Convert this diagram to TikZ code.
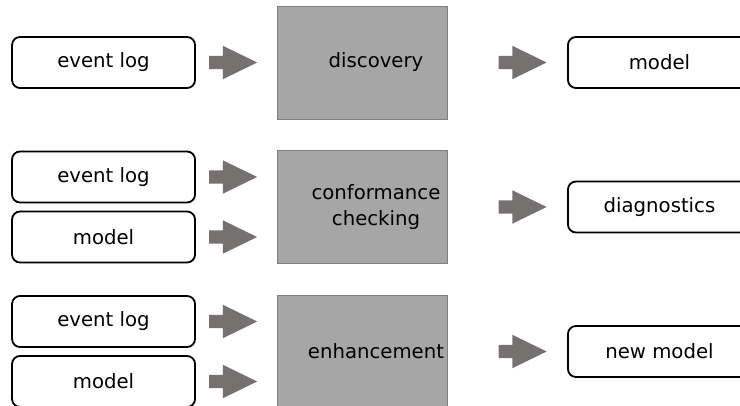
\documentclass[tikz,border=0pt]{standalone}
\usepackage{fontspec}
\setmainfont{DejaVu Sans}
\usetikzlibrary{shapes,arrows,positioning,calc}
\definecolor{taskgray}{HTML}{A6A6A6}
\definecolor{taskedge}{HTML}{7F7F7F}
\definecolor{arrowgray}{HTML}{767171}

\begin{document}
\begin{tikzpicture}[x=1pt, y=-1pt,
        inbox/.style={rectangle, draw, line width=1.8pt, rounded corners=8pt, minimum width=183pt, minimum height=51pt, font=\fontsize{19.7}{23}\selectfont},
        task/.style={rectangle, draw=taskedge, line width=0.8pt, fill=taskgray, minimum width=170pt, minimum height=113pt},
        tasktext/.style={align=center, xshift=14pt, font=\fontsize{19.7}{25.5}\selectfont},
        bigarrow/.style={single arrow, fill=arrowgray, inner xsep=0pt, inner ysep=6.5pt, single arrow head extend=10pt, single arrow head indent=0pt, single arrow tip angle=52, minimum height=48pt}]

        \useasboundingbox (0,0) rectangle (740,406);
        \clip (0,0) rectangle (740,406);

        % discovery
        \node[task, label={[tasktext]center:discovery}] (discovery) at (362,62.5) {};
        \node[bigarrow, left=19pt of discovery] (arrdisc) {};
        \node[inbox, left=13pt of arrdisc] (logdisc) {event log};
        \node[bigarrow, right=51pt of discovery] (arrdiscout) {};
        \node[inbox, right=20pt of arrdiscout] (modeldisc) {model};

        % conformance checking
        \node[task, label={[tasktext]center:conformance\\checking}] (conformance) at (362,207) {};
        \node[bigarrow, anchor=east] (arrconfa) at ($(conformance.west)+(-19,-30)$) {};
        \node[bigarrow, anchor=east] (arrconfb) at ($(conformance.west)+(-19,30)$) {};
        \node[inbox, left=13pt of arrconfa] (logconf) {event log};
        \node[inbox, left=13pt of arrconfb] (modelconf) {model};
        \node[bigarrow, right=51pt of conformance] (arrconfout) {};
        \node[inbox, right=20pt of arrconfout] (diagnostics) {diagnostics};

        % enhancement
        \node[task, label={[tasktext]center:enhancement}] (enhancement) at (362,351.5) {};
        \node[bigarrow, anchor=east] (arrenha) at ($(enhancement.west)+(-19,-30)$) {};
        \node[bigarrow, anchor=east] (arrenhb) at ($(enhancement.west)+(-19,30)$) {};
        \node[inbox, left=13pt of arrenha] (logenh) {event log};
        \node[inbox, left=13pt of arrenhb] (modelenh) {model};
        \node[bigarrow, right=51pt of enhancement] (arrenhout) {};
        \node[inbox, right=20pt of arrenhout] (newmodel) {new model};

    \end{tikzpicture}
\end{document}
